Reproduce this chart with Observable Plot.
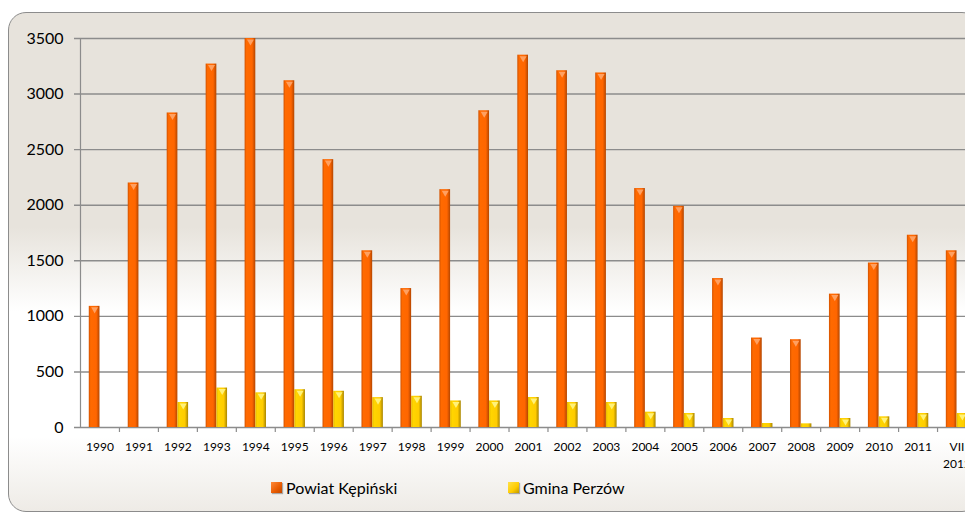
<!DOCTYPE html>
<html>
<head>
<meta charset="utf-8">
<script src="https://cdn.jsdelivr.net/npm/d3@7"></script>
<script src="https://cdn.jsdelivr.net/npm/@observablehq/plot@0.6"></script>
<style>
  html, body { margin: 0; padding: 0; width: 965px; height: 516px; overflow: hidden; background: #ffffff; }
  #frame {
    position: absolute; left: 8px; top: 12px; width: 972px; height: 500px;
    border: 1.5px solid #8c8c8c; border-radius: 18px; box-sizing: border-box;
    background: linear-gradient(to bottom, #e7e3dc 0%, #e7e3dc 43%, #ffffff 60%, #ffffff 85%, #eeebe6 100%);
  }
  #chart { position: absolute; left: 0; top: 0; width: 980px; }
  #chart svg { max-width: none !important; }
  .legend { position: absolute; top: 478px; font-family: Lato, "Open Sans", sans-serif; font-size: 16px; color: #000; display: flex; align-items: center; }
  .legend .sw { width: 11px; height: 11px; margin-right: 4px; box-shadow: 1px 1px 1px rgba(0,0,0,0.3); }
</style>
</head>
<body>
<div id="frame"></div>
<div id="chart"></div>
<div class="legend" style="left:271px"><span class="sw" style="background:linear-gradient(135deg,#ff8a3a,#e85a00 60%,#c04800)"></span>Powiat Kępiński</div>
<div class="legend" style="left:508px"><span class="sw" style="background:linear-gradient(135deg,#ffe14a,#ffcc00 60%,#c09a00)"></span>Gmina Perzów</div>
<script>
const years = ["1990","1991","1992","1993","1994","1995","1996","1997","1998","1999","2000","2001","2002","2003","2004","2005","2006","2007","2008","2009","2010","2011","VII\n2012"];
const powiat = [1090, 2200, 2830, 3270, 3500, 3120, 2410, 1590, 1250, 2140, 2850, 3350, 3210, 3190, 2150, 1990, 1340, 805, 790, 1200, 1480, 1730, 1590];
const gmina  = [0, 0, 225, 355, 312, 340, 326, 269, 281, 239, 239, 270, 225, 225, 138, 126, 81, 36, 33, 81, 96, 126, 126];
const yTicks = [0, 500, 1000, 1500, 2000, 2500, 3000, 3500];
const seriesNames = ["Powiat Kępiński", "Gmina Perzów"];

const rowsP = years.map((y, i) => ({year: y, series: seriesNames[0], value: powiat[i]}));
const rowsG = years.map((y, i) => ({year: y, series: seriesNames[1], value: gmina[i]}));

const W = 980, H = 470, mL = 80, mR = 4;
const bw = (W - mL - mR) / years.length;
const barW = 10.7;
const inset = (bw - barW) / 2;
const grid = "#8c8c8c";

const svg = Plot.plot({
  width: W, height: H,
  marginLeft: mL, marginRight: mR, marginTop: 38, marginBottom: 43,
  x: {domain: years, padding: 0, round: false, label: null},
  y: {domain: [0, 3500], label: null},
  style: {background: "transparent", fontFamily: "Lato, 'Open Sans', sans-serif", overflow: "visible", color: "#000", maxWidth: "none"},
  marks: [
    Plot.ruleY(yTicks, {stroke: grid, strokeWidth: 1.4, insetLeft: -6}),
    Plot.ruleX([years[0]], {dx: -bw / 2, y1: 0, y2: 3500, stroke: grid, strokeWidth: 1.2}),
    Plot.ruleX(years, {x: d => d, y1: 0, y2: 0, insetBottom: -5, dx: bw / 2, stroke: grid, strokeWidth: 1.2}),
    Plot.barY(rowsP, {x: "year", y: "value", fill: "url(#gradO)", insetLeft: inset, insetRight: inset, dx: -barW / 2,
      style: "filter: drop-shadow(2px 1px 1.5px rgba(0,0,0,0.35))"}),
    Plot.barY(rowsG.filter(d => d.value > 0), {x: "year", y: "value", fill: "url(#gradY)", insetLeft: inset, insetRight: inset, dx: barW / 2,
      style: "filter: drop-shadow(2px 1px 1.5px rgba(0,0,0,0.35))"}),
    Plot.dot(rowsP, {x: "year", y: "value", symbol: "triangle", rotate: 180, r: 2.6, fill: "#ffa060", stroke: "none", dx: -barW / 2, dy: 3}),
    Plot.dot(rowsG.filter(d => d.value >= 60), {x: "year", y: "value", symbol: "triangle", rotate: 180, r: 2.6, fill: "#fff27a", stroke: "none", dx: barW / 2, dy: 3}),
    Plot.axisY({ticks: yTicks, tickSize: 0, tickPadding: 17, fontSize: 16, tickFormat: d => String(d), label: null}),
    Plot.axisX({tickSize: 0, tickPadding: 11, fontSize: 12, lineHeight: 1.45, label: null})
  ]
});

svg.insertAdjacentHTML("afterbegin", `
<defs>
  <linearGradient id="gradO" x1="0" x2="1" y1="0" y2="0">
    <stop offset="0" stop-color="#d25200"/>
    <stop offset="0.18" stop-color="#ff6a00"/>
    <stop offset="0.7" stop-color="#ff6600"/>
    <stop offset="1" stop-color="#b44600"/>
  </linearGradient>
  <linearGradient id="gradY" x1="0" x2="1" y1="0" y2="0">
    <stop offset="0" stop-color="#e8b800"/>
    <stop offset="0.2" stop-color="#ffd500"/>
    <stop offset="0.7" stop-color="#ffcc00"/>
    <stop offset="1" stop-color="#a88500"/>
  </linearGradient>
</defs>`);
svg.style.maxWidth = "none";
document.getElementById("chart").appendChild(svg);
</script>
</body>
</html>
